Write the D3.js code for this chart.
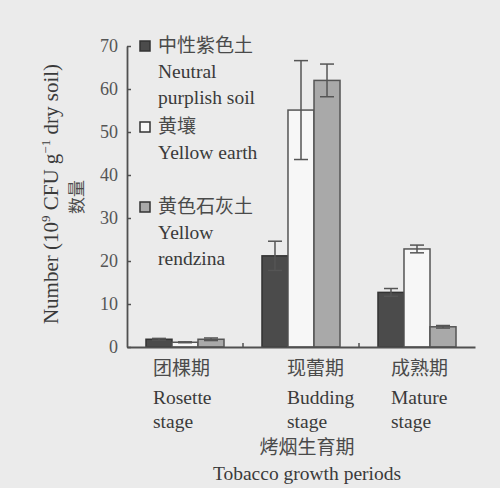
<!DOCTYPE html>
<html>
<head>
<meta charset="utf-8">
<script src="https://cdn.jsdelivr.net/npm/d3@7"></script>
<style>
  html, body { margin: 0; padding: 0; background: #ebebeb; }
  svg { display: block; }
</style>
</head>
<body>
<svg id="chart" width="500" height="488"></svg>
<script>
// ---- data ----
const categories = ["Rosette", "Budding", "Mature"];
const categoryZh = ["团棵期", "现蕾期", "成熟期"];
const categoryEn = [["Rosette", "stage"], ["Budding", "stage"], ["Mature", "stage"]];
const series = ["Neutral purplish soil", "Yellow earth", "Yellow rendzina"];
const legendLabels = [["中性紫色土", "Neutral", "purplish soil"], ["黄壤", "Yellow earth"], ["黄色石灰土", "Yellow", "rendzina"]];
const neutralPurplish = [1.8, 21.2, 12.7];
const yellowEarth = [1.1, 55.1, 22.8];
const yellowRendzina = [1.8, 62.0, 4.7];
const neutralErr = [0.2, 3.4, 0.9];
const earthErr = [0.1, 11.5, 0.9];
const rendzinaErr = [0.3, 3.8, 0.3];
const yTicks = [0, 10, 20, 30, 40, 50, 60, 70];

// ---- layout ----
const svg = d3.select("#chart");
const serif = "'Liberation Serif', 'Times New Roman', serif";
const cjk = "'Noto Sans CJK SC', sans-serif";
const ink = "#3a3a3a";
const cjkInk = "#4a4a4a";
const axisCol = "#505050";
const fills = ["#4b4b4b", "#f7f7f7", "#a9a9a9"];
const strokes = ["#333333", "#555555", "#555555"];
const enSize = "19.5px";

const y = d3.scaleLinear().domain([0, 70]).range([347, 46]);
const x = d3.scaleBand().domain(categories).range([127, 475]).padding(0);
const xs = d3.scaleBand().domain(series).range([0, x.bandwidth()]).paddingInner(0).paddingOuter(0.73);

const values = [neutralPurplish, yellowEarth, yellowRendzina];
const errs = [neutralErr, earthErr, rendzinaErr];
const rows = [];
series.forEach((s, si) => categories.forEach((c, ci) => rows.push({ s, si, c, ci, v: values[si][ci], e: errs[si][ci] })));

// bars
svg.append("g").selectAll("rect").data(rows).join("rect")
  .attr("x", d => x(d.c) + xs(d.s))
  .attr("y", d => y(d.v))
  .attr("width", xs.bandwidth())
  .attr("height", d => y(0) - y(d.v))
  .attr("fill", d => fills[d.si])
  .attr("stroke", d => strokes[d.si])
  .attr("stroke-width", 1.5);

// error bars
const eg = svg.append("g").attr("stroke", "#555").attr("stroke-width", 1.5).attr("fill", "none");
rows.forEach(d => {
  const cx = x(d.c) + xs(d.s) + xs.bandwidth() / 2;
  const y1 = y(d.v + d.e), y2 = y(Math.max(0, d.v - d.e));
  eg.append("line").attr("x1", cx).attr("x2", cx).attr("y1", y1).attr("y2", y2);
  eg.append("line").attr("x1", cx - 7).attr("x2", cx + 7).attr("y1", y1).attr("y2", y1);
  eg.append("line").attr("x1", cx - 7).attr("x2", cx + 7).attr("y1", y2).attr("y2", y2);
});

// y axis
const yAxis = d3.axisLeft(y).tickValues(yTicks).tickSizeInner(-4).tickSizeOuter(0).tickPadding(9);
const ya = svg.append("g").attr("transform", "translate(127,0)").call(yAxis);
ya.select(".domain").attr("stroke", axisCol).attr("stroke-width", 1.8);
ya.selectAll(".tick line").attr("stroke", axisCol).attr("stroke-width", 1.5);
ya.selectAll(".tick text").attr("fill", "#555").style("font-family", serif).style("font-size", "18px");

// x baseline and boundary ticks
const xAxis = d3.axisBottom(x).tickValues([]).tickSizeOuter(0);
const xa = svg.append("g").attr("transform", `translate(0,${y(0)})`).call(xAxis);
xa.select(".domain").attr("stroke", axisCol).attr("stroke-width", 1.8);
categories.slice(1).forEach(c => {
  xa.append("line").attr("x1", x(c)).attr("x2", x(c)).attr("y1", 0).attr("y2", -4)
    .attr("stroke", axisCol).attr("stroke-width", 1.5);
});

// x category labels
const labelDx = [-32, -14, -26];
categories.forEach((c, i) => {
  const lx = x(c) + x.bandwidth() / 2 + labelDx[i];
  svg.append("text").attr("x", lx).attr("y", 375).text(categoryZh[i])
    .attr("fill", cjkInk).style("font-family", cjk).style("font-size", "19px");
  categoryEn[i].forEach((t, k) => {
    svg.append("text").attr("x", lx).attr("y", 404 + k * 24).text(t)
      .attr("fill", ink).style("font-family", serif).style("font-size", enSize);
  });
});

// x title
const xc = (x.range()[0] + x.range()[1]) / 2 + 6;
svg.append("text").attr("x", xc).attr("y", 454).attr("text-anchor", "middle").text("烤烟生育期")
  .attr("fill", cjkInk).style("font-family", cjk).style("font-size", "19px");
svg.append("text").attr("x", xc).attr("y", 480).attr("text-anchor", "middle").text("Tobacco growth periods")
  .attr("fill", ink).style("font-family", serif).style("font-size", enSize);

// y title
const yt = svg.append("text").attr("transform", "translate(58,194) rotate(-90)").attr("text-anchor", "middle")
  .attr("fill", ink).style("font-family", serif).style("font-size", "21px");
yt.append("tspan").text("Number (10");
yt.append("tspan").text("9").attr("dy", -8).style("font-size", "13px");
yt.append("tspan").text(" CFU g").attr("dy", 8);
yt.append("tspan").text("−1").attr("dy", -8).style("font-size", "13px");
yt.append("tspan").text(" dry soil)").attr("dy", 8);
svg.append("text").attr("transform", "translate(83,197) rotate(-90)").attr("text-anchor", "middle")
  .text("数量").attr("fill", cjkInk).style("font-family", cjk).style("font-size", "17px");

// legend
const legendY = [46, 127, 207];
legendLabels.forEach((lines, i) => {
  svg.append("rect").attr("x", 140).attr("y", legendY[i] - 5).attr("width", 10).attr("height", 10)
    .attr("fill", fills[i]).attr("stroke", "#333").attr("stroke-width", 1.5);
  lines.forEach((t, k) => {
    const isZh = k === 0;
    svg.append("text").attr("x", 158).attr("y", legendY[i] + 6 + k * 26).text(t)
      .attr("fill", isZh ? cjkInk : ink)
      .style("font-family", isZh ? cjk : serif)
      .style("font-size", isZh ? "19px" : enSize);
  });
});
</script>
</body>
</html>
